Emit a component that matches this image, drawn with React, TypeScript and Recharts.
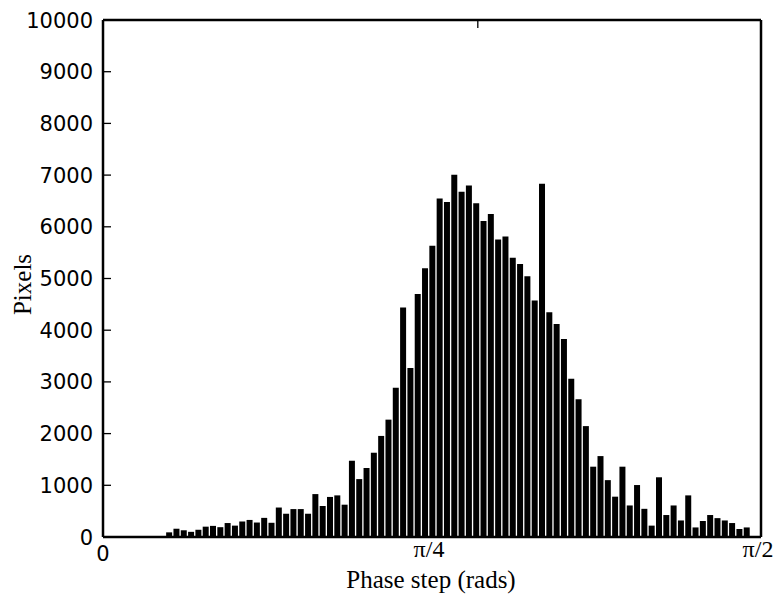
import React from 'react';
import { BarChart, Bar, XAxis, YAxis, Label } from 'recharts';

// Histogram bin centres (degrees of phase step; axis spans 0 .. 90 deg = 0 .. pi/2)
const binCentersDeg = [
  9, 10, 11, 12, 13, 14, 15, 16, 17, 18,
  19, 20, 21, 22, 23, 24, 25, 26, 27, 28,
  29, 30, 31, 32, 33, 34, 35, 36, 37, 38,
  39, 40, 41, 42, 43, 44, 45, 46, 47, 48,
  49, 50, 51, 52, 53, 54, 55, 56, 57, 58,
  59, 60, 61, 62, 63, 64, 65, 66, 67, 68,
  69, 70, 71, 72, 73, 74, 75, 76, 77, 78,
  79, 80, 81, 82, 83, 84, 85, 86, 87, 88,
];

// Pixel counts per bin
const pixelCounts = [
  90, 160, 130, 100, 140, 200, 215, 190, 270, 220,
  300, 330, 280, 370, 275, 570, 450, 540, 540, 450,
  830, 600, 775, 805, 625, 1475, 1120, 1335, 1630, 1955,
  2270, 2885, 4440, 3270, 4700, 5200, 5635, 6545, 6480, 7005,
  6680, 6800, 6455, 6110, 6250, 5755, 5810, 5400, 5280, 5045,
  4575, 6835, 4345, 4120, 3830, 3060, 2665, 2145, 1360, 1565,
  1100, 780, 1360, 610, 1005, 545, 220, 1155, 425, 610,
  320, 805, 185, 310, 425, 365, 320, 270, 155, 185,
];

const yTicks = [0, 1000, 2000, 3000, 4000, 5000, 6000, 7000, 8000, 9000, 10000];
const xTickValues = [0, 45, 90];
const xTickLabels = ['0', 'π/4', 'π/2'];
const xAxisTitle = 'Phase step (rads)';
const yAxisTitle = 'Pixels';

const data = binCentersDeg.map((d, i) => ({ deg: d, count: pixelCounts[i] }));

const SANS = '"DejaVu Sans", Verdana, sans-serif';
const SERIF = '"Liberation Serif", "Times New Roman", serif';
const TICK_LEN = 8;
const TICK_STYLE = { stroke: '#000', strokeWidth: 1.3 };
const SPINE = { stroke: '#000', strokeWidth: 2.5 };

const LeftTick = (props: any) => {
  const { x, y, payload } = props;
  return (
    <text x={x} y={y} dy="0.36em" textAnchor="end" fontFamily={SANS} fontSize={21} fill="#000">
      {payload.value}
    </text>
  );
};

const EmptyTick = () => <g />;

const BottomTick = (props: any) => {
  const { x, y, payload } = props;
  const label = xTickLabels[xTickValues.indexOf(payload.value)] ?? '';
  const isSans = label === '0';
  return (
    <text
      x={isSans ? x : x - 3}
      y={y + (isSans ? 24 : 20)}
      textAnchor="middle"
      fontFamily={isSans ? SANS : SERIF}
      fontSize={isSans ? 21 : 24}
      fill="#000"
    >
      {label}
    </text>
  );
};

const XTitle = (props: any) => {
  const { viewBox } = props;
  return (
    <text
      x={viewBox.x + viewBox.width / 2 - 1}
      y={588}
      textAnchor="middle"
      fontFamily={SERIF}
      fontSize={25}
      fill="#000"
    >
      {xAxisTitle}
    </text>
  );
};

const YTitle = (props: any) => {
  const { viewBox } = props;
  const cx = 22;
  const cy = viewBox.y + viewBox.height / 2 + 6;
  return (
    <text
      x={cx}
      y={cy}
      transform={`rotate(-90, ${cx}, ${cy})`}
      textAnchor="middle"
      dominantBaseline="central"
      fontFamily={SERIF}
      fontSize={25}
      fill="#000"
    >
      {yAxisTitle}
    </text>
  );
};

export default function App() {
  return (
    <div style={{ position: 'fixed', left: 0, top: 0, width: 776, height: 597, background: '#fff' }}>
      <BarChart
        width={776}
        height={597}
        data={data}
        margin={{ top: 19, right: 0, bottom: 0, left: 0 }}
        barSize={6}
      >
        <XAxis
          dataKey="deg"
          type="number"
          domain={[0, 90]}
          ticks={xTickValues}
          interval={0}
          height={60}
          axisLine={SPINE}
          tickLine={TICK_STYLE}
          tickSize={-TICK_LEN}
          tickMargin={TICK_LEN}
          tick={<BottomTick />}
          label={<Label content={<XTitle />} />}
        />
        <XAxis
          xAxisId="top"
          orientation="top"
          type="number"
          domain={[0, 90]}
          ticks={xTickValues}
          interval={0}
          height={1}
          axisLine={SPINE}
          tickLine={TICK_STYLE}
          tickSize={-TICK_LEN}
          tickMargin={0}
          tick={<EmptyTick />}
        />
        <YAxis
          type="number"
          domain={[0, 10000]}
          ticks={yTicks}
          interval={0}
          width={103}
          axisLine={SPINE}
          tickLine={TICK_STYLE}
          tickSize={-TICK_LEN}
          tickMargin={TICK_LEN + 10}
          tick={<LeftTick />}
          label={<Label content={<YTitle />} />}
        />
        <YAxis
          yAxisId="right"
          orientation="right"
          type="number"
          domain={[0, 10000]}
          ticks={yTicks}
          interval={0}
          width={15}
          axisLine={SPINE}
          tickLine={TICK_STYLE}
          tickSize={-TICK_LEN}
          tickMargin={0}
          tick={<EmptyTick />}
        />
        <Bar dataKey="count" fill="#000" isAnimationActive={false} />
      </BarChart>
    </div>
  );
}
